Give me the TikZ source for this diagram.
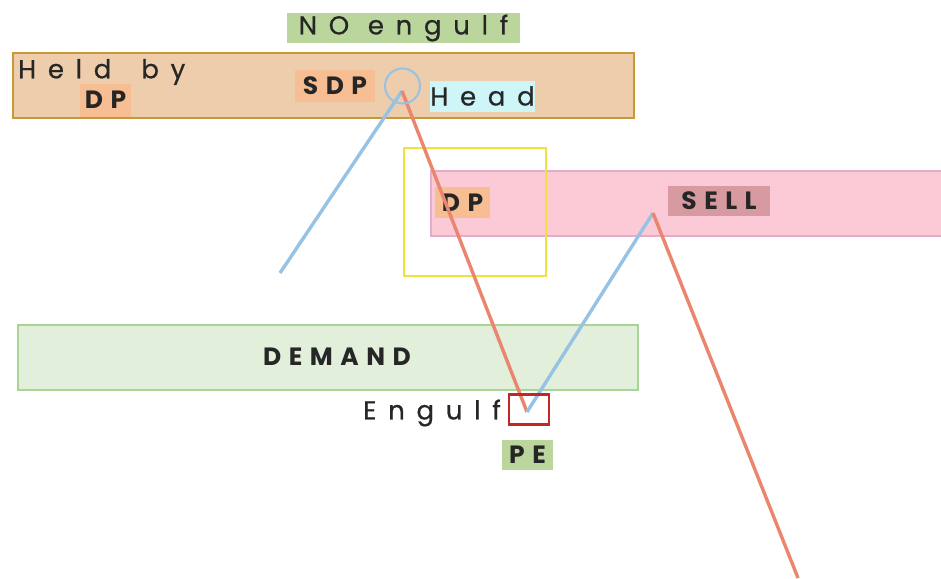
\documentclass[tikz,border=0pt]{standalone}
\usepackage{fontspec}
\setmainfont{Poppins}[LetterSpace=30]
\newfontfamily\plainfont{Poppins}[LetterSpace=45,FakeBold=0.6]
\definecolor{tanfill}{RGB}{238,205,172}
\definecolor{tanedge}{RGB}{198,152,58}
\definecolor{pinkfill}{RGB}{252,202,214}
\definecolor{pinkedge}{RGB}{228,172,204}
\definecolor{greenfill}{RGB}{226,239,218}
\definecolor{greenedge}{RGB}{170,212,150}
\definecolor{taggreen}{RGB}{186,214,156}
\definecolor{tagorange}{RGB}{246,190,146}
\definecolor{tagcyan}{RGB}{206,245,248}
\definecolor{tagrose}{RGB}{214,154,160}
\definecolor{zoneyellow}{RGB}{240,226,60}
\definecolor{zonered}{RGB}{192,40,40}
\definecolor{legblue}{RGB}{150,195,228}
\definecolor{legred}{RGB}{234,134,110}
\begin{document}
\begin{tikzpicture}[x=1pt,y=-1pt,
  zone/.style={draw, line width=2pt, inner sep=0pt, anchor=center},
  tag/.style={inner sep=0pt, anchor=center, text=black!85, font=\fontsize{25}{28}\selectfont\bfseries},
  note/.style={inner sep=0pt, text=black!85, font=\plainfont\fontsize{26}{28}\selectfont},
  leg/.style={line width=3.4pt, line join=round}]
\useasboundingbox (0,0) rectangle (941,578);
% zones
\node[zone, fill=tanfill, draw=tanedge, line width=2.5pt, minimum width=621, minimum height=65] (held) at (323.5,85.5) {};
\node[zone, fill=pinkfill, draw=pinkedge, line width=1.2pt, minimum width=530, minimum height=65] (sell) at (696,203.5) {};
\node[zone, draw=zoneyellow, line width=2.5pt, minimum width=142, minimum height=128] (dpbox) at (475,212) {};
\node[zone, fill=greenfill, draw=greenedge, line width=1.5pt, minimum width=620, minimum height=65] (demand) at (328,357.5) {};
% labels
\node[note, anchor=center, fill=taggreen, minimum width=233, minimum height=30] (noengulf) at (403.5,28) {NO engulf};
\node[note, anchor=west] (heldby) at (18,72) {Held\hspace{30pt}by};
\node[tag, fill=tagorange, minimum width=51, minimum height=33] (dptop) at (105.5,100) {DP};
\node[tag, fill=tagorange, minimum width=80, minimum height=32] (sdp) at (335,86) {SDP};
\node[note, anchor=center, fill=tagcyan, minimum width=105, minimum height=31] (head) at (482.5,96) {Head};
\node[tag, fill=tagorange, minimum width=55, minimum height=31] (dpmid) at (462.5,202.5) {DP};
\node[tag, fill=tagrose, minimum width=102, minimum height=30] (selltag) at (719,201) {SELL};
\node[tag] (demandtxt) at (337,357) {DEMAND};
\node[note, anchor=east] (engulf) at (501,413) {Engulf};
\node[tag, fill=taggreen, minimum width=51, minimum height=30] (pe) at (527.5,455) {PE};
% swing points
\coordinate (p0) at (280,273);
\coordinate (p1) at (402,91);
\coordinate (p2) at (527,412);
\coordinate (p3) at (653,213);
\coordinate (p4) at (798,578);
% price legs
\draw[leg, legblue] (p0) -- (p1);
\draw[leg, legred] (p1) -- (p2);
\draw[leg, legblue] (p2) -- (p3);
\draw[leg, legred] (p3) -- (p4);
% markers
\node[draw=legblue, line width=2pt, circle, minimum size=35, inner sep=0pt] (headmark) at (402.5,86) {};
\node[zone, draw=zonered, line width=2.5pt, minimum width=40, minimum height=30] (pemark) at (529,409.5) {};
\end{tikzpicture}
\end{document}
